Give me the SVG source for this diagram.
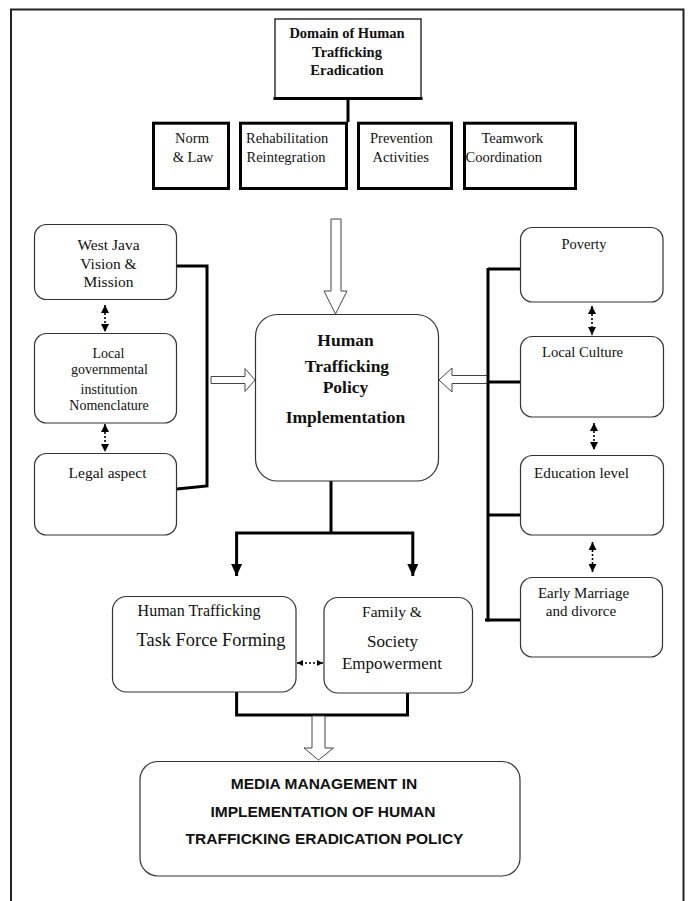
<svg xmlns="http://www.w3.org/2000/svg" width="691" height="901" viewBox="0 0 691 901">
<style>
.bg{fill:#fff}
.rb{fill:#fff;stroke:#333;stroke-width:1.2}
.sq{fill:#fff;stroke:#000;stroke-width:3}
.t{font-family:"Liberation Serif","Times New Roman",serif;fill:#111;text-anchor:middle}
.st{font-family:"Liberation Serif","Times New Roman",serif;fill:#111;text-anchor:start}
.b{font-weight:bold}
.s{font-family:"Liberation Sans",Arial,sans-serif;font-weight:bold;fill:#111;text-anchor:middle}
.thick{fill:none;stroke:#000;stroke-width:3}
.dot{stroke:#000;stroke-width:1.6;stroke-dasharray:2,2;fill:none}
.hollow{fill:#fff;stroke:#444;stroke-width:1}
</style>
<defs>
<marker id="ah" viewBox="0 0 8 8" refX="8" refY="4" markerWidth="8" markerHeight="8" markerUnits="userSpaceOnUse" orient="auto-start-reverse">
<path d="M0,0 L8,4 L0,8 z" fill="#000"/>
</marker>
<marker id="ahs" viewBox="0 0 8 8" refX="8" refY="4" markerWidth="6" markerHeight="6" markerUnits="userSpaceOnUse" orient="auto-start-reverse">
<path d="M0,0 L8,4 L0,8 z" fill="#000"/>
</marker>
<marker id="ahb" viewBox="0 0 12 11" refX="12" refY="5.5" markerWidth="12" markerHeight="11" markerUnits="userSpaceOnUse" orient="auto-start-reverse">
<path d="M0,0 L12,5.5 L0,11 z" fill="#000"/>
</marker>
</defs>
<rect class="bg" x="0" y="0" width="691" height="901"/>
<path d="M11,901 V9.5 H683.5 V901" fill="none" stroke="#222" stroke-width="2"/>

<g id="connectors">
<line x1="348" y1="99" x2="348" y2="122" stroke="#000" stroke-width="3"/>
<polygon class="hollow" points="331,219 341,219 341,291 347,291 335.5,314 324,291 331,291"/>
<polygon class="hollow" points="211,376.5 245,376.5 245,368.5 255,380 245,391.5 245,383.5 211,383.5"/>
<polygon class="hollow" points="488,375.5 452,375.5 452,368 439,380 452,392 452,383.5 488,383.5"/>
<polyline class="thick" points="177,266 207,266 207,486 177,489"/>
<line x1="488" y1="268" x2="488" y2="621.5" stroke="#000" stroke-width="3"/>
<line x1="488" y1="269" x2="520" y2="269" stroke="#000" stroke-width="3"/>
<line x1="488" y1="382" x2="520" y2="382" stroke="#000" stroke-width="3"/>
<line x1="488" y1="515" x2="520" y2="515" stroke="#000" stroke-width="3"/>
<line x1="485" y1="620" x2="520" y2="620" stroke="#000" stroke-width="3"/>
<line class="dot" x1="105" y1="305" x2="105" y2="332" marker-start="url(#ah)" marker-end="url(#ah)"/>
<line class="dot" x1="105" y1="424" x2="105" y2="452" marker-start="url(#ah)" marker-end="url(#ah)"/>
<line class="dot" x1="592" y1="306" x2="592" y2="335" marker-start="url(#ah)" marker-end="url(#ah)"/>
<line class="dot" x1="594" y1="423" x2="594" y2="450" marker-start="url(#ah)" marker-end="url(#ah)"/>
<line class="dot" x1="592.5" y1="542" x2="592.5" y2="572" marker-start="url(#ah)" marker-end="url(#ah)"/>
<line class="dot" x1="297" y1="663" x2="323" y2="663" stroke-width="1.2" marker-start="url(#ahs)" marker-end="url(#ahs)"/>
<line x1="331" y1="481" x2="331" y2="534" stroke="#000" stroke-width="3"/>
<polyline class="thick" points="236.6,576 236.6,533 412.8,533 412.8,576" marker-start="url(#ahb)" marker-end="url(#ahb)"/>
<polyline class="thick" points="236.6,692 236.6,715 407.5,715 407.5,693"/>
<polygon class="hollow" points="312,716 325,716 325,748 333.5,748 318.5,760 304,748 312,748"/>
</g>

<g id="domain">
<rect x="275" y="19" width="146" height="80" fill="#fff" stroke="#111" stroke-width="1.3"/>
<line x1="273.5" y1="98.5" x2="422.5" y2="98.5" stroke="#000" stroke-width="3"/>
<text class="t b" font-size="14.5" x="347" y="38">Domain of Human</text>
<text class="t b" font-size="14.5" x="347" y="57">Trafficking</text>
<text class="t b" font-size="14.5" x="347" y="75">Eradication</text>
</g>

<g id="norm">
<rect class="sq" x="153.5" y="123.2" width="75" height="65.3"/>
<text class="t" font-size="14.5" x="192" y="143">Norm</text>
<text class="t" font-size="14.5" x="193" y="162">&amp; Law</text>
</g>
<g id="rehab">
<rect class="sq" x="240.5" y="123.2" width="106" height="65.3"/>
<text class="st" font-size="14.5" x="246" y="143">Rehabilitation</text>
<text class="st" font-size="14.5" x="246.5" y="162">Reintegration</text>
</g>
<g id="prevention">
<rect class="sq" x="358.5" y="123.2" width="93" height="65.3"/>
<text class="st" font-size="14.5" x="370" y="143">Prevention</text>
<text class="st" font-size="14.5" x="372.5" y="162">Activities</text>
</g>
<g id="teamwork">
<rect class="sq" x="464.5" y="123.2" width="111" height="65.3"/>
<text class="st" font-size="14.5" x="481.5" y="143">Teamwork</text>
<text class="st" font-size="14.5" x="465.5" y="162">Coordination</text>
</g>

<g id="westjava">
<rect class="rb" x="34.5" y="224.5" width="142" height="75" rx="12"/>
<text class="t" font-size="15.5" x="108.5" y="249.5">West Java</text>
<text class="t" font-size="15.5" x="108.5" y="268.5">Vision &amp;</text>
<text class="t" font-size="15.5" x="108.5" y="286.5">Mission</text>
</g>
<g id="localgov">
<rect class="rb" x="34.5" y="333.5" width="142" height="89.5" rx="12"/>
<text class="t" font-size="14" x="108.5" y="357.5">Local</text>
<text class="t" font-size="14" x="109.5" y="373.5">governmental</text>
<text class="t" font-size="14" x="109" y="393.5">institution</text>
<text class="t" font-size="14" x="109" y="410">Nomenclature</text>
</g>
<g id="legal">
<rect class="rb" x="34.5" y="453.5" width="142" height="81.5" rx="12"/>
<text class="t" font-size="15.5" x="107.5" y="478">Legal aspect</text>
</g>

<g id="main">
<rect class="rb" x="255.5" y="314.5" width="183" height="166.5" rx="22"/>
<text class="t b" font-size="17.5" x="345.5" y="346">Human</text>
<text class="t b" font-size="17.5" x="347" y="372">Trafficking</text>
<text class="t b" font-size="17.5" x="345.5" y="393">Policy</text>
<text class="t b" font-size="17.5" x="345.5" y="422.5">Implementation</text>
</g>

<g id="poverty">
<rect class="rb" x="520.5" y="227.5" width="142.5" height="74.5" rx="12"/>
<text class="t" font-size="14.5" x="584" y="249">Poverty</text>
</g>
<g id="localculture">
<rect class="rb" x="520.5" y="336.5" width="143" height="80.5" rx="12"/>
<text class="t" font-size="14.7" x="582.5" y="357">Local Culture</text>
</g>
<g id="education">
<rect class="rb" x="520.5" y="455.5" width="143" height="79.5" rx="12"/>
<text class="t" font-size="15.2" x="581.5" y="478">Education level</text>
</g>
<g id="earlymarriage">
<rect class="rb" x="520.5" y="577.5" width="142" height="79.5" rx="12"/>
<text class="t" font-size="15" x="583.5" y="598">Early Marriage</text>
<text class="t" font-size="15" x="581" y="616">and divorce</text>
</g>

<g id="taskforce">
<rect class="rb" x="112.5" y="596.5" width="183.5" height="95.5" rx="14"/>
<text class="t" font-size="16" x="199" y="616">Human Trafficking</text>
<text class="t" font-size="18.4" x="211" y="646">Task Force Forming</text>
</g>
<g id="family">
<rect class="rb" x="324" y="597.5" width="148.5" height="95.5" rx="14"/>
<text class="t" font-size="15.5" x="392" y="616.5">Family &amp;</text>
<text class="t" font-size="17" x="392.5" y="647">Society</text>
<text class="t" font-size="17" x="392" y="668.5">Empowerment</text>
</g>

<g id="media">
<rect class="rb" x="140" y="761.5" width="380" height="114.5" rx="18"/>
<text class="s" font-size="15.5" x="324" y="789">MEDIA MANAGEMENT IN</text>
<text class="s" font-size="15.5" x="323" y="817">IMPLEMENTATION OF HUMAN</text>
<text class="s" font-size="15.5" x="324.5" y="844">TRAFFICKING ERADICATION POLICY</text>
</g>
</svg>
